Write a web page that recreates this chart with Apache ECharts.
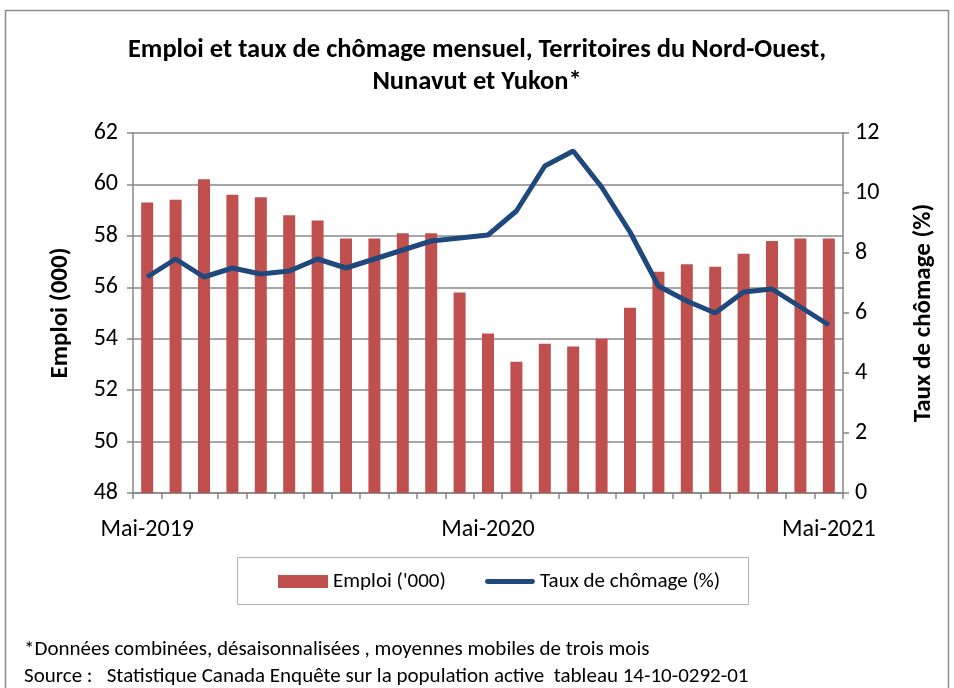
<!DOCTYPE html>
<html>
<head>
<meta charset="utf-8">
<script src="https://cdn.jsdelivr.net/npm/echarts@6/dist/echarts.min.js"></script>
<style>
html, body { margin: 0; padding: 0; background: #fff; }
#chart { width: 954px; height: 688px; }
</style>
</head>
<body>
<div id="chart"></div>
<script>
// mois de mai 2019 à mai 2021
var mois = ['Mai-2019', 'Juin-2019', 'Juil-2019', 'Août-2019', 'Sept-2019', 'Oct-2019', 'Nov-2019', 'Déc-2019',
    'Janv-2020', 'Févr-2020', 'Mars-2020', 'Avr-2020', 'Mai-2020', 'Juin-2020', 'Juil-2020', 'Août-2020',
    'Sept-2020', 'Oct-2020', 'Nov-2020', 'Déc-2020', 'Janv-2021', 'Févr-2021', 'Mars-2021', 'Avr-2021', 'Mai-2021'];
var emploi = [59.3, 59.4, 60.2, 59.6, 59.5, 58.8, 58.6, 57.9, 57.9, 58.1, 58.1, 55.8, 54.2,
    53.1, 53.8, 53.7, 54.0, 55.2, 56.6, 56.9, 56.8, 57.3, 57.8, 57.9, 57.9];
var chomage = [7.2, 7.8, 7.2, 7.5, 7.3, 7.4, 7.8, 7.5, 7.8, 8.1, 8.4, 8.5, 8.6,
    9.4, 10.9, 11.4, 10.2, 8.7, 6.9, 6.4, 6.0, 6.7, 6.8, 6.2, 5.6];

var police = 'Carlito, "Liberation Sans", Arial, sans-serif';

var myChart = echarts.init(document.getElementById('chart'));

var option = {
    animation: false,
    textStyle: { fontFamily: police },
    title: {
        text: 'Emploi et taux de chômage mensuel, Territoires du Nord-Ouest,\nNunavut et Yukon*',
        left: 'center',
        top: 29,
        textStyle: { fontSize: 26.5, fontWeight: 'bold', color: '#000', lineHeight: 32, fontFamily: police }
    },
    graphic: [
        { type: 'rect', shape: { x: 5.5, y: 10.5, width: 943, height: 700 },
          style: { fill: null, stroke: '#8c8c8c', lineWidth: 1.5 }, silent: true },
        { type: 'rect', shape: { x: 237.5, y: 557.5, width: 511, height: 47 },
          style: { fill: null, stroke: '#b0b0b0', lineWidth: 1 }, silent: true },
        { type: 'text', left: 24, top: 639,
          style: { text: '*Données combinées, désaisonnalisées , moyennes mobiles de trois mois',
                   font: '21px ' + police, fill: '#000' } },
        { type: 'text', left: 24, top: 666,
          style: { text: 'Source :   Statistique Canada Enquête sur la population active  tableau 14-10-0292-01',
                   font: '21px ' + police, fill: '#000' } }
    ],
    legend: [
        {
            left: 273,
            top: 566,
            itemWidth: 50,
            itemHeight: 13,
            textStyle: { fontSize: 21, color: '#000' },
            data: [{ name: "Emploi ('000)", icon: 'rect' }]
        },
        {
            left: 480,
            top: 566,
            itemWidth: 50,
            itemHeight: 13,
            textStyle: { fontSize: 21, color: '#000' },
            data: [{ name: 'Taux de chômage (%)', icon: 'path://M2,4 L48,4 A2,2 0 0 1 48,9 L2,9 A2,2 0 0 1 2,4 Z M0,0 L0,0 M50,13 L50,13' }]
        }
    ],
    grid: { left: 133, right: 111, top: 133, bottom: 195 },
    xAxis: {
        type: 'category',
        data: mois,
        boundaryGap: true,
        axisLine: { lineStyle: { color: '#888', width: 1.5 } },
        axisTick: { show: true, interval: 0, length: 6, lineStyle: { color: '#888', width: 1.5 } },
        axisLabel: {
            interval: function (i) { return i % 12 === 0; },
            color: '#000',
            fontSize: 24,
            margin: 25
        }
    },
    yAxis: [
        {
            type: 'value',
            min: 48, max: 62, interval: 2,
            name: 'Emploi (000)',
            nameLocation: 'middle',
            nameGap: 60,
            nameRotate: 90,
            nameTextStyle: { fontSize: 25, fontWeight: 'bold', color: '#000' },
            axisLine: { show: true, lineStyle: { color: '#888', width: 1.5 } },
            axisTick: { show: true, length: 6, lineStyle: { color: '#888', width: 1.5 } },
            axisLabel: { color: '#000', fontSize: 24, margin: 15 },
            splitLine: { show: true, lineStyle: { color: '#888', width: 1.5 } }
        },
        {
            type: 'value',
            min: 0, max: 12, interval: 2,
            name: 'Taux de chômage (%)',
            nameLocation: 'middle',
            nameGap: 68,
            nameRotate: 90,
            nameTextStyle: { fontSize: 25, fontWeight: 'bold', color: '#000' },
            axisLine: { show: true, lineStyle: { color: '#888', width: 1.5 } },
            axisTick: { show: true, length: 6, lineStyle: { color: '#888', width: 1.5 } },
            axisLabel: { color: '#000', fontSize: 24, margin: 12 },
            splitLine: { show: false }
        }
    ],
    series: [
        {
            name: "Emploi ('000)",
            type: 'bar',
            data: emploi,
            yAxisIndex: 0,
            barWidth: 12,
            itemStyle: { color: '#C0504D' }
        },
        {
            name: 'Taux de chômage (%)',
            type: 'line',
            data: chomage,
            yAxisIndex: 1,
            symbol: 'none',
            lineStyle: { color: '#1F497D', width: 5 },
            itemStyle: { color: '#1F497D' }
        }
    ]
};

myChart.setOption(option);
</script>
</body>
</html>
